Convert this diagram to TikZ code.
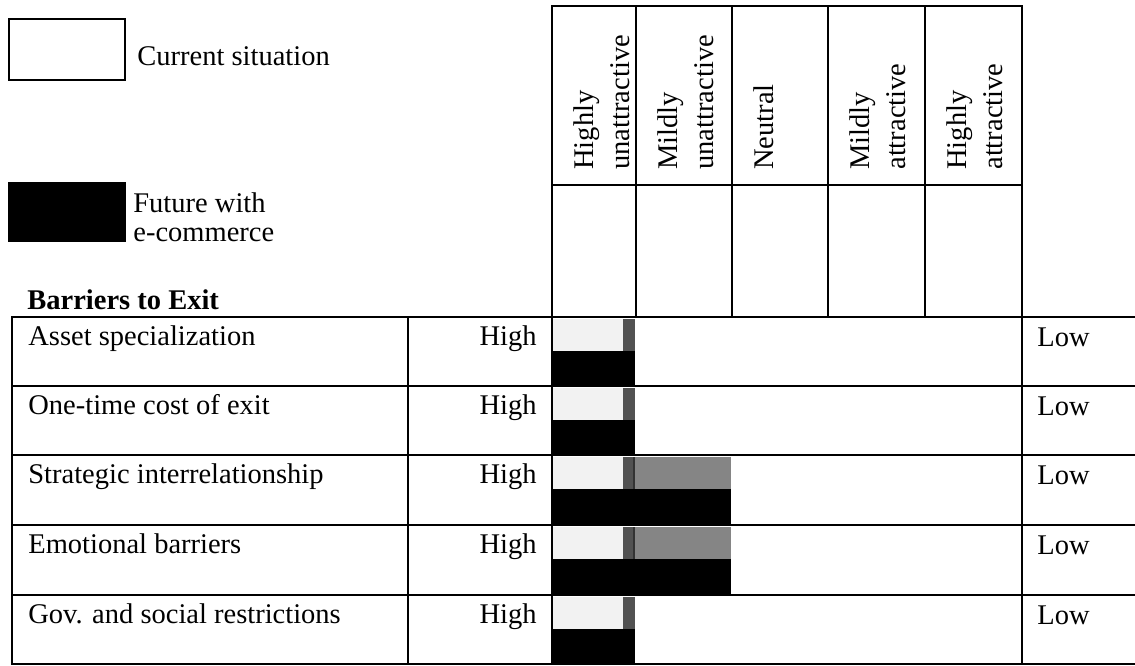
\documentclass[tikz,border=0pt]{standalone}
\usepackage{fontspec}
\setmainfont{Liberation Serif}
\begin{document}
\begin{tikzpicture}[x=0.5pt,y=-0.5pt,
  rule/.style={line width=1.1pt, line cap=rect},
  txt/.style={anchor=base west, inner sep=0pt, font=\fontsize{14.25}{17}\selectfont},
  rtxt/.style={anchor=base east, inner sep=0pt, font=\fontsize{14.25}{17}\selectfont},
  vtxt/.style={txt, rotate=90},
  nowbar/.style={fill=black!5},
  edgebar/.style={fill=black!68},
  midbar/.style={fill=black!48},
  futbar/.style={fill=black}]
\useasboundingbox (0,0) rectangle (1135,665);

% legend
\draw[rule, fill=white] (9,19) rectangle (125,80);
\fill[futbar] (8,182) rectangle (126,242);
\node[txt] (legcur) at (137,65) {Current situation};
\node[txt] (legfut) at (133,212) {Future with};
\node[txt] (legecom) at (133,241) {e-commerce};
\node[txt, font=\fontsize{14.25}{17}\selectfont\bfseries] (title) at (27,309) {Barriers to Exit};

% bars: current situation (top half) and future (bottom half) of each row
\foreach \t/\e in {317/635, 386/635, 595/635}{
  \fill[nowbar] (553,\t+2) rectangle (623,\t+34);
  \fill[edgebar] (623,\t+2) rectangle (635,\t+34);
  \fill[futbar] (552,\t+34) rectangle (\e,\t+69);
}
\foreach \t/\e in {455/731, 525/731}{
  \fill[nowbar] (553,\t+2) rectangle (623,\t+34);
  \fill[edgebar] (623,\t+2) rectangle (635,\t+34);
  \fill[midbar] (635,\t+2) rectangle (731,\t+34);
  \draw[line width=0.8pt, black!80] (634,\t+2) -- (634,\t+34);
  \fill[futbar] (552,\t+34) rectangle (\e,\t+69);
}

% scale header
\draw[rule] (552,6) rectangle (1022,317);
\draw[rule] (552,185) -- (1022,185);
\foreach \x in {636,732,828,925}
  \draw[rule] (\x,6) -- (\x,317);

\node[vtxt] (hua) at (593,170) {Highly};
\node[vtxt] (hub) at (629,170) {unattractive};
\node[vtxt] (mua) at (677,170) {Mildly};
\node[vtxt] (mub) at (713,170) {unattractive};
\node[vtxt] (neu) at (773,170) {Neutral};
\node[vtxt] (maa) at (869,170) {Mildly};
\node[vtxt] (mab) at (905,170) {attractive};
\node[vtxt] (haa) at (966,170) {Highly};
\node[vtxt] (hab) at (1002,170) {attractive};

% main grid
\foreach \y in {317,386,455,525,595,664}
  \draw[rule] (12,\y) -- (1135,\y);
\foreach \x in {12,408,552,1022}
  \draw[rule] (\x,317) -- (\x,664);

% row texts
\foreach \t/\lab [count=\i] in {317/Asset specialization, 386/One-time cost of exit,
    455/Strategic interrelationship, 525/Emotional barriers,
    595/Gov. and social restrictions}{
  \node[txt] (lab\i) at (28,\t+28) {\lab};
  \node[rtxt] (hi\i) at (537,\t+28) {High};
  \node[txt] (lo\i) at (1037,\t+29) {Low};
}
\end{tikzpicture}
\end{document}
